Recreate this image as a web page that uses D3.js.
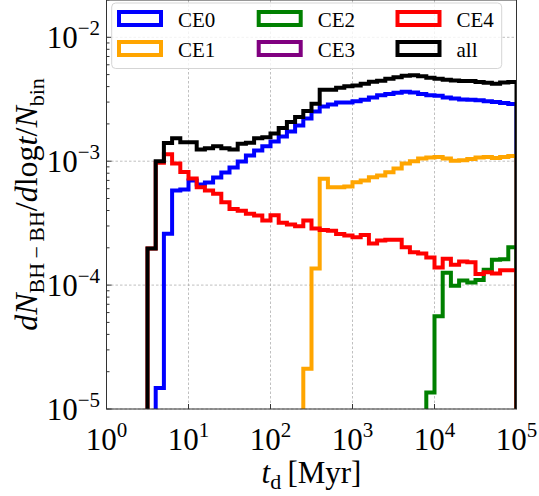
<!DOCTYPE html>
<html>
<head>
<meta charset="utf-8">
<script src="https://cdn.jsdelivr.net/npm/d3@7/dist/d3.min.js"></script>
<style>
  html, body { margin: 0; padding: 0; background: #fff; }
  svg { display: block; }
  svg text { font-family: "Liberation Serif", "DejaVu Serif", "Times New Roman", serif; }
</style>
</head>
<body>
<svg id="chart" width="539" height="496"></svg>
<script>
// ---- data ----
// bin edges in log10(t_d / Myr): 0.0, 0.1, ..., 5.0
const logBinEdges = d3.range(51).map(i => i / 10);

const seriesNames = ["CE0", "CE1", "CE2", "CE3", "CE4", "all"];
const seriesColors = ["#0000ff", "#ffa500", "#008000", "#800080", "#ff0000", "#000000"];

const ce0 = [0,0,0,0,0,0,
  1.48e-5,2.60e-4,5.80e-4,5.90e-4,6.98e-4,6.48e-4,6.73e-4,7.38e-4,8.10e-4,8.89e-4,
  9.94e-4,1.11e-3,1.22e-3,1.32e-3,1.44e-3,1.58e-3,1.74e-3,1.94e-3,2.21e-3,2.52e-3,
  2.77e-3,2.87e-3,2.98e-3,2.98e-3,3.04e-3,3.13e-3,3.27e-3,3.40e-3,3.49e-3,3.56e-3,
  3.63e-3,3.59e-3,3.49e-3,3.40e-3,3.37e-3,3.27e-3,3.21e-3,3.15e-3,3.13e-3,3.10e-3,
  3.04e-3,3.01e-3,2.95e-3,2.90e-3];
const ce1 = [0,0,0,0,0,0,0,0,0,0,0,0,0,0,0,0,0,0,0,0,0,0,0,0,
  2.11e-5,1.36e-4,7.21e-4,6.16e-4,6.16e-4,6.24e-4,6.76e-4,6.98e-4,7.42e-4,7.66e-4,
  8.15e-4,8.73e-4,9.58e-4,1.00e-3,1.05e-3,1.07e-3,1.08e-3,1.05e-3,1.01e-3,1.02e-3,
  1.04e-3,1.07e-3,1.08e-3,1.06e-3,1.08e-3,1.10e-3];
const ce2 = [0,0,0,0,0,0,0,0,0,0,0,0,0,0,0,0,0,0,0,0,0,0,0,0,0,0,0,0,0,0,0,0,0,0,0,0,0,0,0,
  1.36e-5,5.61e-5,1.26e-4,9.89e-5,1.09e-4,1.05e-4,1.10e-4,1.33e-4,1.60e-4,1.62e-4,2.02e-4];
const ce3 = [0,0,0,0,0,0,0,0,0,0,0,0,0,0,0,0,0,0,0,0,0,0,0,0,0,
  0,0,0,0,0,0,0,0,0,0,0,0,0,0,0,0,0,0,0,0,0,0,0,0,0];
const ce4 = [0,0,0,0,0,
  1.97e-4,9.70e-4,1.14e-3,9.58e-4,8.18e-4,7.25e-4,6.16e-4,5.80e-4,5.45e-4,4.66e-4,
  4.12e-4,3.99e-4,3.76e-4,3.64e-4,3.32e-4,3.67e-4,3.19e-4,3.08e-4,2.99e-4,3.32e-4,
  2.86e-4,2.78e-4,2.75e-4,2.59e-4,2.51e-4,2.43e-4,2.54e-4,2.17e-4,2.29e-4,2.32e-4,
  2.32e-4,2.02e-4,1.84e-4,1.80e-4,1.67e-4,1.39e-4,1.63e-4,1.46e-4,1.55e-4,1.53e-4,
  1.23e-4,1.27e-4,1.24e-4,1.32e-4,1.32e-4];
const all = [0,0,0,0,0,
  1.97e-4,1.00e-3,1.40e-3,1.53e-3,1.42e-3,1.42e-3,1.24e-3,1.27e-3,1.32e-3,1.27e-3,
  1.24e-3,1.38e-3,1.41e-3,1.53e-3,1.56e-3,1.67e-3,1.85e-3,2.07e-3,2.27e-3,2.54e-3,
  2.91e-3,3.78e-3,3.78e-3,3.91e-3,4.02e-3,4.09e-3,4.22e-3,4.37e-3,4.45e-3,4.63e-3,
  4.75e-3,4.89e-3,4.93e-3,4.84e-3,4.71e-3,4.62e-3,4.55e-3,4.49e-3,4.43e-3,4.43e-3,
  4.35e-3,4.29e-3,4.22e-3,4.32e-3,4.35e-3];

const xTickExps = [0, 1, 2, 3, 4, 5];
const yTickExps = [-5, -4, -3, -2];

const seriesValues = [ce0, ce1, ce2, ce3, ce4, all];

// ---- layout ----
const FONT = "'Liberation Serif', 'DejaVu Serif', 'Times New Roman', serif";
const svg = d3.select("#chart");
const L = 106.5, R = 516.5, T = 0, B = 409;
const x = d3.scaleLog().domain([1, 1e5]).range([L, R]);
const y = d3.scaleLog().domain([1e-5, 2e-2]).range([B, T]);
const FLOOR = 1e-8;

svg.append("defs").append("clipPath").attr("id", "plotclip")
  .append("rect").attr("x", L).attr("y", T).attr("width", R - L).attr("height", B - T);

// grid
const grid = svg.append("g");
xTickExps.forEach(e => {
  grid.append("line").attr("x1", x(10 ** e)).attr("x2", x(10 ** e)).attr("y1", T).attr("y2", B)
    .attr("stroke", "#b0b0b0").attr("stroke-width", 0.8).attr("stroke-dasharray", "2.5,2");
});
yTickExps.forEach(e => {
  grid.append("line").attr("x1", L).attr("x2", R).attr("y1", y(10 ** e)).attr("y2", y(10 ** e))
    .attr("stroke", "#b0b0b0").attr("stroke-width", 0.8).attr("stroke-dasharray", "2.5,2");
});

// histograms (step outline)
const line = d3.line().x(d => x(d[0])).y(d => y(d[1]));
const plot = svg.append("g").attr("clip-path", "url(#plotclip)");
seriesValues.forEach((vals, si) => {
  const pts = [[10 ** logBinEdges[0], FLOOR]];
  vals.forEach((v, i) => {
    const vv = v > 0 ? v : FLOOR;
    pts.push([10 ** logBinEdges[i], vv]);
    pts.push([10 ** logBinEdges[i + 1], vv]);
  });
  pts.push([10 ** logBinEdges[logBinEdges.length - 1], FLOOR]);
  plot.append("path").attr("d", line(pts)).attr("fill", "none")
    .attr("stroke", seriesColors[si]).attr("stroke-width", 4)
    .attr("stroke-linejoin", "miter");
});

// frame
svg.append("rect").attr("x", L).attr("y", T).attr("width", R - L).attr("height", B - T)
  .attr("fill", "none").attr("stroke", "#333").attr("stroke-width", 1);

// ticks
const ticks = svg.append("g").attr("stroke", "#333").attr("stroke-width", 1);
xTickExps.forEach(e => {
  ticks.append("line").attr("x1", x(10 ** e)).attr("x2", x(10 ** e)).attr("y1", B).attr("y2", B - 5);
});
yTickExps.forEach(e => {
  ticks.append("line").attr("x1", L).attr("x2", L + 5).attr("y1", y(10 ** e)).attr("y2", y(10 ** e));
});
const yDom = y.domain();
for (let e = -5; e <= -2; e++) {
  for (let m = 2; m <= 9; m++) {
    const v = m * 10 ** e;
    if (v > yDom[1]) continue;
    ticks.append("line").attr("x1", L).attr("x2", L + 3).attr("y1", y(v)).attr("y2", y(v));
  }
}

// tick labels
xTickExps.forEach(e => {
  const t = svg.append("text").attr("x", x(10 ** e)).attr("y", 450).attr("font-family", FONT)
    .attr("text-anchor", "middle").attr("font-size", 31).attr("fill", "#000");
  t.append("tspan").text("10");
  t.append("tspan").attr("font-size", 21).attr("dy", -13).text(String(e));
});
yTickExps.forEach(e => {
  const t = svg.append("text").attr("x", 100).attr("y", y(10 ** e) + 11).attr("font-family", FONT)
    .attr("text-anchor", "end").attr("font-size", 31).attr("fill", "#000");
  t.append("tspan").text("10");
  t.append("tspan").attr("font-size", 21).attr("dy", -13).text("\u2212" + Math.abs(e));
});

// axis labels
const xl = svg.append("text").attr("x", (L + R) / 2).attr("y", 483).attr("font-family", FONT)
  .attr("text-anchor", "middle").attr("font-size", 31);
xl.append("tspan").attr("font-style", "italic").text("t");
xl.append("tspan").attr("font-size", 22).attr("dy", 6).text("d");
xl.append("tspan").attr("dy", -6).text("\u2009[Myr]");

const yl = svg.append("text").attr("transform", `translate(37,${(T + B) / 2}) rotate(-90)`)
  .attr("font-family", FONT).attr("text-anchor", "middle").attr("font-size", 32);
yl.append("tspan").attr("font-style", "italic").text("dN");
yl.append("tspan").attr("font-size", 22).attr("dy", 7).text("BH\u2009\u2212\u2009BH");
yl.append("tspan").attr("dy", -7).text("/");
yl.append("tspan").attr("font-style", "italic").text("d");
yl.append("tspan").text("log");
yl.append("tspan").attr("font-style", "italic").text("t");
yl.append("tspan").text("/");
yl.append("tspan").attr("font-style", "italic").text("N");
yl.append("tspan").attr("font-size", 22).attr("dy", 7).text("bin");

// legend
const lg = svg.append("g");
lg.append("rect").attr("x", 111.7).attr("y", 3).attr("width", 390).attr("height", 65.5)
  .attr("rx", 4).attr("fill", "#fff").attr("fill-opacity", 0.8)
  .attr("stroke", "#d5d5d5").attr("stroke-width", 1);
const colX = [119, 258.7, 397.5];
const rowY = [12, 42];
seriesNames.forEach((name, i) => {
  const col = Math.floor(i / 2), row = i % 2;
  lg.append("rect").attr("x", colX[col]).attr("y", rowY[row]).attr("width", 42).attr("height", 13)
    .attr("fill", "none").attr("stroke", seriesColors[i]).attr("stroke-width", 4);
  lg.append("text").attr("x", colX[col] + 59).attr("y", rowY[row] + 15).attr("font-family", FONT)
    .attr("font-size", 21).attr("fill", "#000").text(name);
});
</script>
</body>
</html>
